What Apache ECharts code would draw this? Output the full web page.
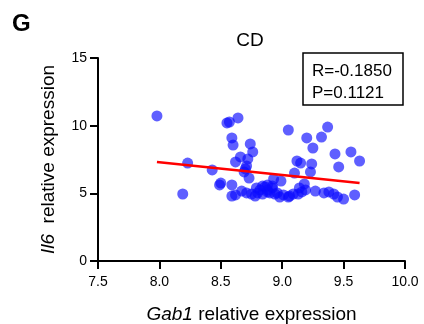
<!DOCTYPE html>
<html>
<head>
<meta charset="utf-8">
<script src="https://cdn.jsdelivr.net/npm/echarts@6/dist/echarts.min.js"></script>
<style>
html, body { margin: 0; padding: 0; background: #fff; }
#chart { width: 424px; height: 324px; }
</style>
</head>
<body>
<div id="chart"></div>
<script>
// Gab1 (x) vs Il6 (y)
var gab1 = [7.98, 8.19, 8.23, 8.43, 8.49, 8.50, 8.55, 8.57, 8.64, 8.59,
            8.60, 8.74, 8.76, 8.66, 8.62, 8.72, 8.71, 8.70, 8.73, 8.59,
            8.59, 8.62, 8.67, 8.75, 8.79, 8.80, 8.86, 8.88, 8.92, 8.82,
            8.84, 8.84, 9.05, 9.20, 9.32, 9.37, 9.25, 9.43, 9.56, 9.63,
            9.46, 9.12, 9.15, 9.24, 9.23, 9.10, 8.93, 8.99, 9.18, 9.27,
            9.34, 9.38, 9.42, 9.45, 9.50, 9.59, 9.05, 9.09, 9.13, 9.16,
            9.19, 9.14, 8.98, 8.94, 8.90, 8.88, 8.92, 8.88, 8.96, 9.01,
            8.69, 9.06, 8.78, 8.71];
var il6 = [10.72, 4.95, 7.24, 6.73, 5.62, 5.76, 10.20, 10.27, 10.57, 9.09,
           8.57, 8.65, 8.06, 7.69, 7.32, 7.54, 7.02, 6.80, 6.13, 5.62,
           4.80, 4.88, 5.17, 4.95, 5.40, 5.03, 5.47, 5.10, 5.40, 5.25,
           4.95, 5.54, 9.68, 9.09, 9.16, 9.90, 8.35, 7.91, 8.06, 7.39,
           6.95, 7.39, 7.24, 7.17, 6.58, 6.50, 6.06, 5.91, 5.69, 5.17,
           5.03, 5.10, 4.95, 4.73, 4.58, 4.88, 4.73, 4.95, 4.95, 5.10,
           5.25, 5.40, 4.73, 4.95, 5.03, 5.25, 5.54, 5.62, 5.03, 4.88,
           6.58, 4.80, 4.80, 5.03];
// fitted line ends
var fitX = [7.98, 9.63];
var fitY = [7.32, 5.76];
var xTicks = [7.5, 8.0, 8.5, 9.0, 9.5, 10.0];
var yTicks = [0, 5, 10, 15];
var statR = 'R=-0.1850';
var statP = 'P=0.1121';

var pts = gab1.map(function (x, i) { return [x, il6[i]]; });
var fit = fitX.map(function (x, i) { return [x, fitY[i]]; });

var font = 'Liberation Sans, Arial, sans-serif';
var chart = echarts.init(document.getElementById('chart'));
chart.setOption({
  animation: false,
  textStyle: { fontFamily: font, color: '#000' },
  title: {
    text: 'CD',
    left: 245, top: 26, textAlign: 'center',
    textStyle: { fontSize: 19, fontWeight: 'normal', color: '#000', fontFamily: font }
  },
  grid: { left: 98, right: 19, top: 58, bottom: 63, outerBoundsMode: 'none', containLabel: false },
  xAxis: {
    type: 'value',
    min: xTicks[0], max: xTicks[xTicks.length - 1], interval: 0.5,
    splitLine: { show: false },
    axisLine: { lineStyle: { color: '#000', width: 2 } },
    axisTick: { length: 8, lineStyle: { color: '#000', width: 2 } },
    axisLabel: { fontSize: 14, color: '#000', margin: 14, hideOverlap: false,
      formatter: function (v) { return v.toFixed(1); } },
    name: '{it|Gab1} relative expression',
    nameLocation: 'middle', nameGap: 44,
    nameTextStyle: { fontSize: 19, color: '#000',
      rich: { it: { fontStyle: 'italic', fontSize: 19 } } }
  },
  yAxis: {
    type: 'value',
    min: yTicks[0], max: yTicks[yTicks.length - 1], interval: 5,
    splitLine: { show: false },
    axisLine: { show: true, lineStyle: { color: '#000', width: 2 } },
    axisTick: { show: true, length: 8, lineStyle: { color: '#000', width: 2 } },
    axisLabel: { fontSize: 14, color: '#000', margin: 11 },
    name: '{it|Il6}  relative expression',
    nameLocation: 'middle', nameGap: 40, nameRotate: 90,
    nameTextStyle: { fontSize: 19, color: '#000',
      rich: { it: { fontStyle: 'italic', fontSize: 19 } } }
  },
  graphic: [
    { type: 'text', left: 12, top: 12,
      style: { text: 'G', fontSize: 24, fontWeight: 'bold', fill: '#000', fontFamily: font } },
    { type: 'rect', shape: { x: 303, y: 53, width: 100, height: 52 },
      style: { fill: '#fff', stroke: '#000', lineWidth: 1.5 }, z: 10 },
    { type: 'text', left: 312, top: 60, z: 11,
      style: { text: statR + '\n' + statP, fontSize: 17, lineHeight: 22, fill: '#000', fontFamily: font } }
  ],
  series: [
    { type: 'scatter', data: pts, symbolSize: 11,
      itemStyle: { color: 'rgba(10,10,255,0.82)' } },
    { type: 'line', data: fit, symbol: 'none', z: 3,
      lineStyle: { color: '#ff0000', width: 2.5 } }
  ]
});
</script>
</body>
</html>
